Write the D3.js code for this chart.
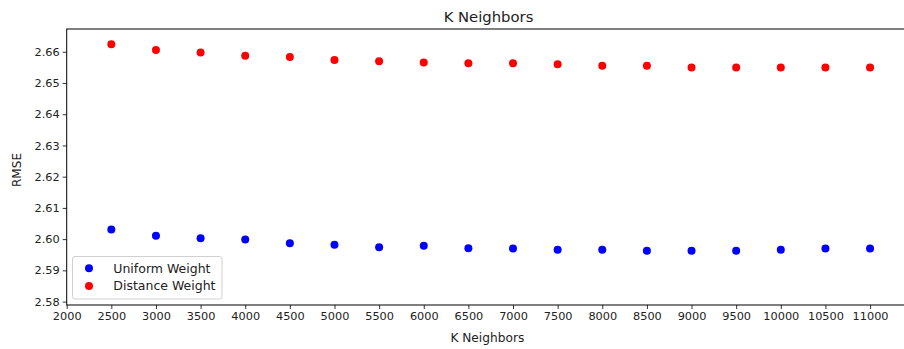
<!DOCTYPE html>
<html>
<head>
<meta charset="utf-8">
<script src="https://cdn.jsdelivr.net/npm/d3@7"></script>
<style>
  body { margin: 0; background: #fff; }
  text { font-family: "DejaVu Sans", sans-serif; fill: #222; }
</style>
</head>
<body>
<script>
// data
var neighbors = [2500, 3000, 3500, 4000, 4500, 5000, 5500, 6000, 6500, 7000,
                 7500, 8000, 8500, 9000, 9500, 10000, 10500, 11000];
var uniformRmse = [2.6031, 2.6011, 2.6003, 2.5999, 2.5987, 2.5982, 2.5974, 2.5979, 2.5971, 2.5970,
                   2.5966, 2.5966, 2.5963, 2.5963, 2.5963, 2.5966, 2.5970, 2.5970];
var distanceRmse = [2.6624, 2.6606, 2.6598, 2.6587, 2.6583, 2.6574, 2.6570, 2.6566, 2.6563, 2.6563,
                    2.6560, 2.6555, 2.6555, 2.6550, 2.6550, 2.6550, 2.6550, 2.6550];
var xTicks = d3.range(2000, 11001, 500);
var yTicks = [2.58, 2.59, 2.60, 2.61, 2.62, 2.63, 2.64, 2.65, 2.66];

var width = 904, height = 349;
var m = { left: 66.7, right: 908, top: 29, bottom: 305 };

var svg = d3.select('body').append('svg')
	.attr('width', width)
	.attr('height', height);

var x = d3.scaleLinear().domain([2000, 11425]).range([m.left, m.right]);
var y = d3.scaleLinear().domain([2.5789, 2.6673]).range([m.bottom, m.top]);

var xAxis = d3.axisBottom(x).tickValues(xTicks).tickFormat(d3.format('d')).tickSizeOuter(0).tickSize(4).tickPadding(3);
var yAxis = d3.axisLeft(y).tickValues(yTicks).tickFormat(d3.format('.2f')).tickSizeOuter(0).tickSize(4).tickPadding(3);

var gx = svg.append('g')
	.attr('transform', 'translate(0,' + m.bottom + ')')
	.call(xAxis);
var gy = svg.append('g')
	.attr('transform', 'translate(' + m.left + ',0)')
	.call(yAxis);

[gx, gy].forEach(function (g) {
	g.select('.domain').remove();
	g.selectAll('line').attr('stroke', '#000').attr('stroke-width', 0.8);
	g.selectAll('text').style('font-size', '11.3px').attr('fill', '#222');
});

// frame
svg.append('rect')
	.attr('x', m.left).attr('y', m.top)
	.attr('width', m.right - m.left).attr('height', m.bottom - m.top)
	.attr('fill', 'none').attr('stroke', '#000').attr('stroke-width', 1);

// points
svg.append('g').selectAll('circle')
	.data(neighbors)
	.join('circle')
		.attr('cx', function (d) { return x(d); })
		.attr('cy', function (d, i) { return y(uniformRmse[i]); })
		.attr('r', 4)
		.attr('fill', '#0000ff');
svg.append('g').selectAll('circle')
	.data(neighbors)
	.join('circle')
		.attr('cx', function (d) { return x(d); })
		.attr('cy', function (d, i) { return y(distanceRmse[i]); })
		.attr('r', 4)
		.attr('fill', '#ff0000');

// title & labels
svg.append('text')
	.attr('x', 488.5).attr('y', 21.7)
	.attr('text-anchor', 'middle')
	.style('font-size', '14.8px')
	.text('K Neighbors');
svg.append('text')
	.attr('x', (m.left + m.right) / 2).attr('y', 341.7)
	.attr('text-anchor', 'middle')
	.style('font-size', '12.2px')
	.text('K Neighbors');
svg.append('text')
	.attr('transform', 'translate(20.5,' + ((m.top + m.bottom) / 2 + 3) + ') rotate(-90)')
	.attr('text-anchor', 'middle')
	.style('font-size', '12.1px')
	.text('RMSE');

// legend
var legend = svg.append('g');
legend.append('rect')
	.attr('x', 72.5).attr('y', 256.5)
	.attr('width', 149.5).attr('height', 42.5)
	.attr('rx', 2.5)
	.attr('fill', 'rgba(255,255,255,0.8)')
	.attr('stroke', '#d0d0d0').attr('stroke-width', 1);
var entries = [['Uniform Weight', '#0000ff'], ['Distance Weight', '#ff0000']];
legend.selectAll('circle')
	.data(entries)
	.join('circle')
		.attr('cx', 89)
		.attr('cy', function (d, i) { return 268.3 + i * 17.7; })
		.attr('r', 4)
		.attr('fill', function (d) { return d[1]; });
legend.selectAll('text')
	.data(entries)
	.join('text')
		.attr('x', 113.3)
		.attr('y', function (d, i) { return 268.3 + i * 17.7; })
		.attr('dy', '0.35em')
		.style('font-size', '12.5px')
		.text(function (d) { return d[0]; });
</script>
</body>
</html>
